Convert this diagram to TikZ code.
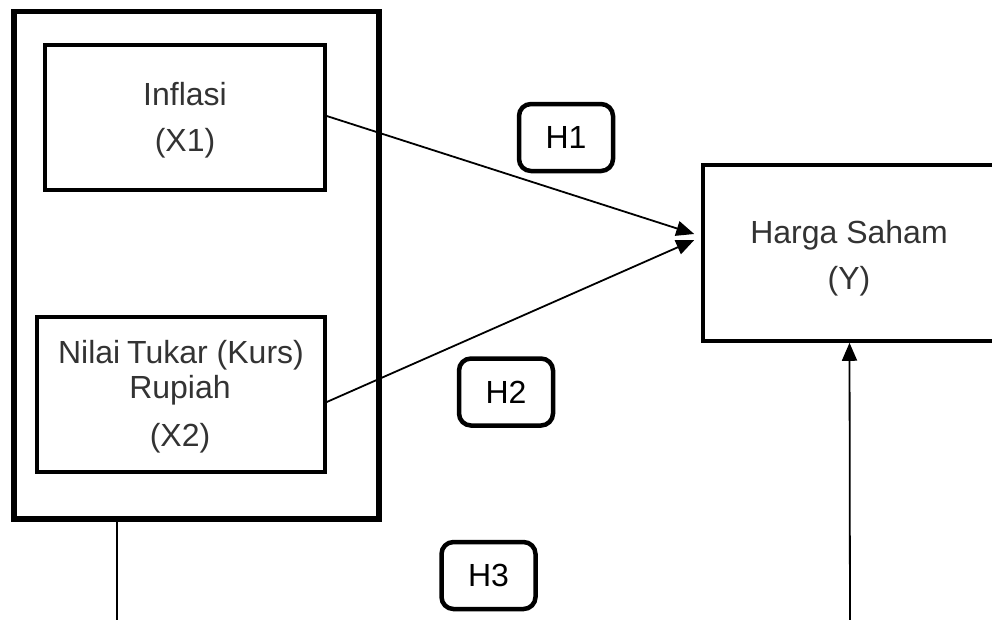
\documentclass[tikz,border=0pt]{standalone}
\usepackage{fontspec}
\setmainfont{Liberation Sans}
\usetikzlibrary{arrows.meta}
\tikzset{
  varbox/.style={draw=black, line width=3.5pt, rectangle, inner sep=0pt},
  vartext/.style={anchor=base, inner sep=0pt, text=black!80, font=\fontsize{32}{38}\selectfont},
  outerbox/.style={draw=black, line width=5.5pt, rectangle, inner sep=0pt},
  hbox/.style={draw=black, line width=4.5pt, rounded corners=12pt, minimum width=94pt, minimum height=67pt, inner sep=0pt, font=\fontsize{32}{38}\selectfont},
  conn/.style={line width=1.8pt, -{Triangle[length=18pt,width=15pt]}},
  plain/.style={line width=1.8pt}
}
\begin{document}
\begin{tikzpicture}[x=1pt,y=-1pt]
\useasboundingbox (0,0) rectangle (992,619);
% boxes
\node[outerbox, minimum width=365pt, minimum height=507.5pt] (outer) at (196.5,265.25) {};
\node[varbox, minimum width=280pt, minimum height=145pt] (inf) at (185,117.5) {};
\node[varbox, minimum width=288pt, minimum height=155pt] (nil) at (181,394.5) {};
\node[varbox, minimum width=293pt, minimum height=176pt] (harga) at (849.5,253) {};
% texts
\node[vartext] (inf1) at (185,105) {Inflasi};
\node[vartext] (inf2) at (185,151) {(X1)};
\node[vartext] (nil1) at (181,363) {Nilai\hspace{-2pt} Tukar (Kurs)};
\node[vartext] (nil2) at (180,398) {Rupiah};
\node[vartext] (nil3) at (180,446) {(X2)};
\node[vartext] (har1) at (849,243) {Harga Saham};
\node[vartext] (har2) at (849,289) {(Y)};
% hypothesis labels
\node[hbox] (h1) at (566,137.5) {H1};
\node[hbox] (h2) at (506,392) {H2};
\node[hbox] (h3) at (488.5,575.5) {H3};
% connectors
\draw[conn] ([yshift=1.5pt]inf.east) -- ([xshift=-7pt,yshift=19pt]harga.west);
\draw[conn] ([yshift=-7.5pt]nil.east) -- ([xshift=-7pt,yshift=13pt]harga.west);
\coordinate (b1) at (117,630);
\coordinate (b2) at (850,630);
\draw[plain] (b1) -- (b1 |- outer.south);
\draw[conn] (b2) -- (harga.south);
\end{tikzpicture}
\end{document}
